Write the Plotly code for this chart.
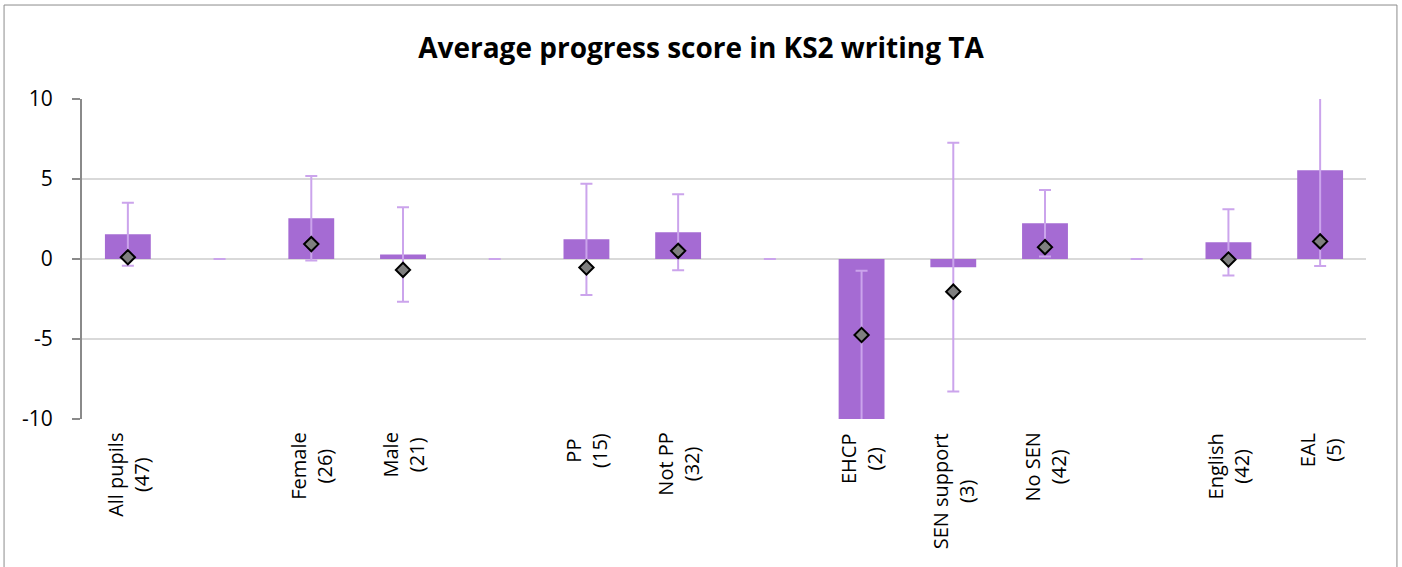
import plotly.graph_objects as go

# Pupil groups (empty strings are spacer slots between group families)
categories = ["All pupils", "", "Female", "Male", "", "PP", "Not PP", "",
              "EHCP", "SEN support", "No SEN", "", "English", "EAL"]
pupil_counts = [47, None, 26, 21, None, 15, 32, None, 2, 3, 42, None, 42, 5]

# Average progress score per group (bars) and its confidence half-width
progress_score = [1.55, 0, 2.55, 0.28, 0, 1.23, 1.67, 0,
                  -10.6, -0.51, 2.23, 0, 1.04, 5.55]
confidence = [1.97, 0, 2.64, 2.95, 0, 3.48, 2.37, 0,
              9.86, 7.77, 2.08, 0, 2.07, 5.98]

# Comparison score shown as diamonds
comparison_score = [0.11, None, 0.93, -0.68, None, -0.53, 0.51, None,
                    -4.75, -2.04, 0.74, None, -0.03, 1.10]

y_ticks = [-10, -5, 0, 5, 10]

FONT = "Open Sans, Noto Sans, DejaVu Sans, sans-serif"
BAR = "#a56bd3"
ERR = "#cba4ec"
AXIS = "#8a8a8a"

x_idx = list(range(len(categories)))
boundaries = [i + 0.5 for i in x_idx]

fig = go.Figure()

fig.add_trace(go.Bar(
    x=x_idx, y=progress_score, width=0.5,
    marker=dict(color=BAR, line=dict(width=0)),
    error_y=dict(type="data", array=confidence, symmetric=True,
                 color=ERR, thickness=2, width=6),
    hoverinfo="skip", showlegend=False,
))

fig.add_trace(go.Scatter(
    x=x_idx, y=comparison_score, mode="markers",
    marker=dict(symbol="diamond", size=11, color="#7f7f7f",
                line=dict(color="#000000", width=2)),
    hoverinfo="skip", showlegend=False,
))

# Category labels, rotated and centred under each slot
for i, (cat, n) in enumerate(zip(categories, pupil_counts)):
    if not cat:
        continue
    fig.add_annotation(
        x=i, xref="x", y=0, yref="paper",
        text=f"{cat}<br>({n})", textangle=-90,
        xanchor="center", yanchor="top", yshift=-12,
        align="center", showarrow=False,
        font=dict(family=FONT, size=20, color="#000000"),
    )

# Outer chart border
fig.add_shape(type="rect", xref="paper", yref="paper",
              x0=-0.0607, x1=1.0241, y0=-0.6, y1=1.2937,
              line=dict(color="#8c8c8c", width=1), fillcolor="rgba(0,0,0,0)",
              layer="below")

fig.update_layout(
    width=1402, height=567,
    margin=dict(l=82, r=36, t=99, b=148),
    paper_bgcolor="white", plot_bgcolor="white",
    bargap=0.5,
    title=dict(text="<b>Average progress score in KS2 writing TA</b>",
               x=0.5, xref="container", xanchor="center",
               y=1 - 48 / 567, yref="container", yanchor="middle",
               font=dict(family=FONT, size=28, color="#000000")),
    font=dict(family=FONT, color="#000000"),
    xaxis=dict(range=[-0.5, len(categories) - 0.5], showticklabels=False,
               showgrid=False, zeroline=False, showline=False, ticks=""),
    xaxis2=dict(overlaying="x", anchor="free", position=0.5,
                range=[-0.5, len(categories) - 0.5],
                tickvals=boundaries, ticks="outside", ticklen=7,
                tickcolor=AXIS, tickwidth=2,
                showline=True, linecolor=AXIS, linewidth=2,
                showticklabels=False, showgrid=False, zeroline=False,
                layer="above traces"),
    yaxis=dict(range=[-10, 10], tickvals=y_ticks,
               ticktext=[str(v) for v in y_ticks],
               showgrid=True, gridcolor="#d9d9d9", gridwidth=2,
               zeroline=False, showline=True, linecolor=AXIS, linewidth=2,
               ticks="outside", ticklen=8, tickcolor=AXIS, tickwidth=2,
               ticklabelstandoff=15,
               tickfont=dict(family=FONT, size=21, color="#000000"),
               layer="above traces"),
)

fig.write_html("out.html")
